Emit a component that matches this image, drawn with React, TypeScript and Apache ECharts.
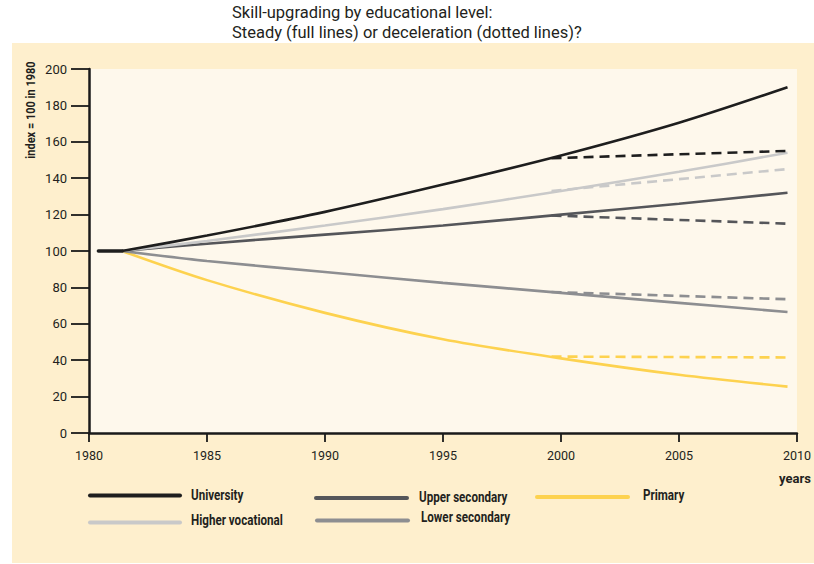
import React, { useEffect, useRef } from "react";
import * as echarts from "echarts";

const years = [1981.4, 1985, 1990, 1995, 2000, 2005, 2009.6];
const university = [100, 108.5, 121.5, 136.5, 152.5, 170.5, 190];
const higherVocational = [100, 105.5, 114, 123, 133, 143.5, 154];
const upperSecondary = [100, 104, 109, 114, 120, 126, 132];
const lowerSecondary = [100, 94.5, 88.5, 82.5, 77, 71.5, 66.5];
const primary = [100, 84, 66, 51.5, 41, 32, 25.5];

const baseYears = [1980.4, 1981.4];
const baseValues = [100, 100];

const decelYears = [1999.6, 2009.6];
const universityDecel = [151, 155];
const higherVocationalDecel = [133, 145];
const upperSecondaryDecel = [119.5, 115];
const lowerSecondaryDecel = [77.5, 73.5];
const primaryDecel = [42, 41.5];

const names = ["University", "Higher vocational", "Upper secondary", "Lower secondary", "Primary"];
const colors = ["#1e1e1e", "#c9c9c9", "#55565a", "#8d8e91", "#fdd24f"];

const FONT = "Roboto, 'Liberation Sans', sans-serif";
const TXT = "#231f20";

const pairs = (xs: number[], ys: number[]) => xs.map((x, i) => [x, ys[i]]);

export default function App() {
  const ref = useRef<HTMLDivElement>(null);
  useEffect(() => {
    if (!ref.current) return;
    const chart = echarts.init(ref.current, null, { renderer: "svg" });
    const solid = [university, higherVocational, upperSecondary, lowerSecondary, primary];
    const dashed = [universityDecel, higherVocationalDecel, upperSecondaryDecel, lowerSecondaryDecel, primaryDecel];
    const order = [4, 3, 2, 1, 0];
    const series: any[] = [];
    order.forEach((i) => {
      series.push({
        type: "line",
        name: names[i],
        data: pairs(years, solid[i]),
        smooth: 0.3,
        showSymbol: false,
        symbol: "none",
        lineStyle: { color: colors[i], width: 2.6 },
        z: 2,
      });
    });
    order.forEach((i) => {
      series.push({
        type: "line",
        name: names[i] + " (deceleration)",
        data: pairs(decelYears, dashed[i]),
        showSymbol: false,
        symbol: "none",
        lineStyle: { color: colors[i], width: 2.6, type: [10, 6] },
        z: 3,
      });
    });
    series.push({
      type: "line",
      name: "1980",
      data: pairs(baseYears, baseValues),
      showSymbol: false,
      symbol: "none",
      lineStyle: { color: colors[0], width: 3.6, cap: "round" },
      z: 4,
    });

    const legendPos = [
      { x1: 90, x2: 180, y: 495.5, tx: 191, ty: 495 },
      { x1: 90, x2: 180, y: 522.5, tx: 191, ty: 520.5 },
      { x1: 316, x2: 407, y: 498, tx: 419, ty: 497 },
      { x1: 317, x2: 408, y: 520.5, tx: 421, ty: 517 },
      { x1: 537, x2: 628, y: 497, tx: 643, ty: 495 },
    ];
    const legendGraphics: any[] = [];
    legendPos.forEach((p, i) => {
      legendGraphics.push({
        type: "line",
        shape: { x1: p.x1, y1: p.y, x2: p.x2, y2: p.y },
        style: { stroke: colors[i], lineWidth: 4, lineCap: "round" },
        z: 10,
      });
      legendGraphics.push({
        type: "text",
        x: p.tx,
        y: p.ty,
        scaleX: 0.83,
        style: {
          text: names[i],
          fill: TXT,
          font: `bold 14px ${FONT}`,
          textAlign: "left",
          textVerticalAlign: "middle",
        },
        z: 10,
      });
    });

    chart.setOption({
      animation: false,
      title: {
        text: "Skill-upgrading by educational level:\nSteady (full lines) or deceleration (dotted lines)?",
        left: 232,
        top: 2,
        padding: 0,
        textStyle: {
          fontFamily: FONT,
          fontSize: 16.5,
          fontWeight: "normal",
          color: TXT,
          lineHeight: 20,
        },
      },
      grid: {
        left: 89,
        right: 17,
        top: 69,
        bottom: 131,
        show: true,
        backgroundColor: "#fef8ec",
        borderWidth: 0,
      },
      xAxis: {
        type: "value",
        min: 1980,
        max: 2010,
        interval: 5,
        splitLine: { show: false },
        axisLine: { show: true, lineStyle: { color: "#1a1a1a", width: 2.5 } },
        axisTick: { show: true, length: 9, lineStyle: { color: "#1a1a1a", width: 1.8 } },
        axisLabel: {
          margin: 16,
          fontFamily: FONT,
          fontSize: 12.5,
          color: TXT,
          formatter: (v: number) => String(v),
        },
      },
      yAxis: {
        type: "value",
        min: 0,
        max: 200,
        interval: 20,
        splitLine: { show: false },
        axisLine: { show: true, lineStyle: { color: "#1a1a1a", width: 2.5 } },
        axisTick: { show: true, length: 18, lineStyle: { color: "#1a1a1a", width: 1.8 } },
        axisLabel: {
          margin: 22,
          fontFamily: FONT,
          fontSize: 13,
          color: TXT,
        },
      },
      graphic: [
        {
          type: "rect",
          shape: { x: 12, y: 43, width: 802, height: 520 },
          style: { fill: "#feefcd" },
          z: -10,
          silent: true,
        },
        {
          type: "text",
          x: 31,
          y: 110,
          rotation: Math.PI / 2,
          scaleX: 0.88,
          style: {
            text: "index = 100 in 1980",
            fill: TXT,
            font: `bold 12.5px ${FONT}`,
            textAlign: "center",
            textVerticalAlign: "middle",
          },
          z: 10,
        },
        {
          type: "text",
          x: 811,
          y: 478,
          style: {
            text: "years",
            fill: TXT,
            font: `bold 13px ${FONT}`,
            textAlign: "right",
            textVerticalAlign: "middle",
          },
          z: 10,
        },
        ...legendGraphics,
      ],
      series,
    });
    return () => chart.dispose();
  }, []);
  return (
    <div
      ref={ref}
      style={{ position: "fixed", left: 0, top: 0, width: 814, height: 564, background: "#ffffff" }}
    />
  );
}
